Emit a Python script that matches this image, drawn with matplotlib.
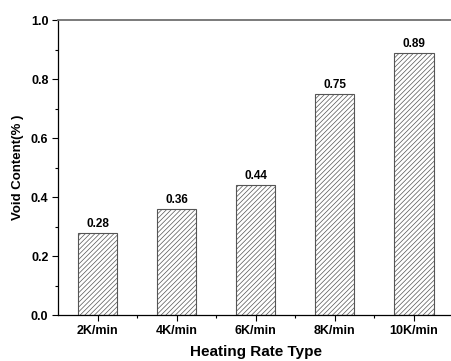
import numpy as np
from matplotlib import pyplot as plt
from matplotlib.ticker import MultipleLocator

categories = ["2K/min", "4K/min", "6K/min", "8K/min", "10K/min"]
void_content = [0.28, 0.36, 0.44, 0.75, 0.89]

plt.rcParams['font.family'] = ['Liberation Sans', 'DejaVu Sans']
plt.rcParams['font.weight'] = 'bold'
plt.rcParams['hatch.linewidth'] = 0.5
plt.rcParams['hatch.color'] = '#666666'

fig = plt.figure(figsize=(4.51, 3.61), dpi=100)
ax = fig.add_axes([0.129, 0.127, 0.876, 0.817])

x = np.arange(1, len(categories) + 1)
bars = ax.bar(x, void_content, width=0.5, color='white', edgecolor='#555555',
              linewidth=0.8, hatch='///////')

for xi, v in zip(x, void_content):
    ax.text(xi, v + 0.01, f"{v:.2f}", ha='center', va='bottom',
            fontsize=8.5, fontweight='bold')

ax.set_xlim(0.5, 5.5)
ax.set_ylim(0, 1.0)
ax.set_xticks(x)
ax.set_xticklabels(categories)
ax.set_xticks(x[:-1] + 0.5, minor=True)
ax.yaxis.set_major_locator(MultipleLocator(0.2))
ax.yaxis.set_minor_locator(MultipleLocator(0.1))
ax.yaxis.set_major_formatter(plt.FormatStrFormatter('%.1f'))

ax.tick_params(axis='both', which='major', direction='out', length=4, width=0.8,
               labelsize=9, colors='black', pad=3)
ax.tick_params(axis='both', which='minor', direction='out', length=2.5, width=0.8)

ax.spines['right'].set_visible(False)
for s in ['left', 'bottom']:
    ax.spines[s].set_linewidth(0.9)
ax.spines['top'].set_linewidth(1.3)
ax.spines['top'].set_color('#707070')

ax.set_ylabel('Void Content(% )', fontsize=9.5, fontweight='bold', labelpad=5)
ax.set_xlabel('Heating Rate Type', fontsize=11, fontweight='bold', labelpad=6)

plt.savefig('out.png', dpi=100)
